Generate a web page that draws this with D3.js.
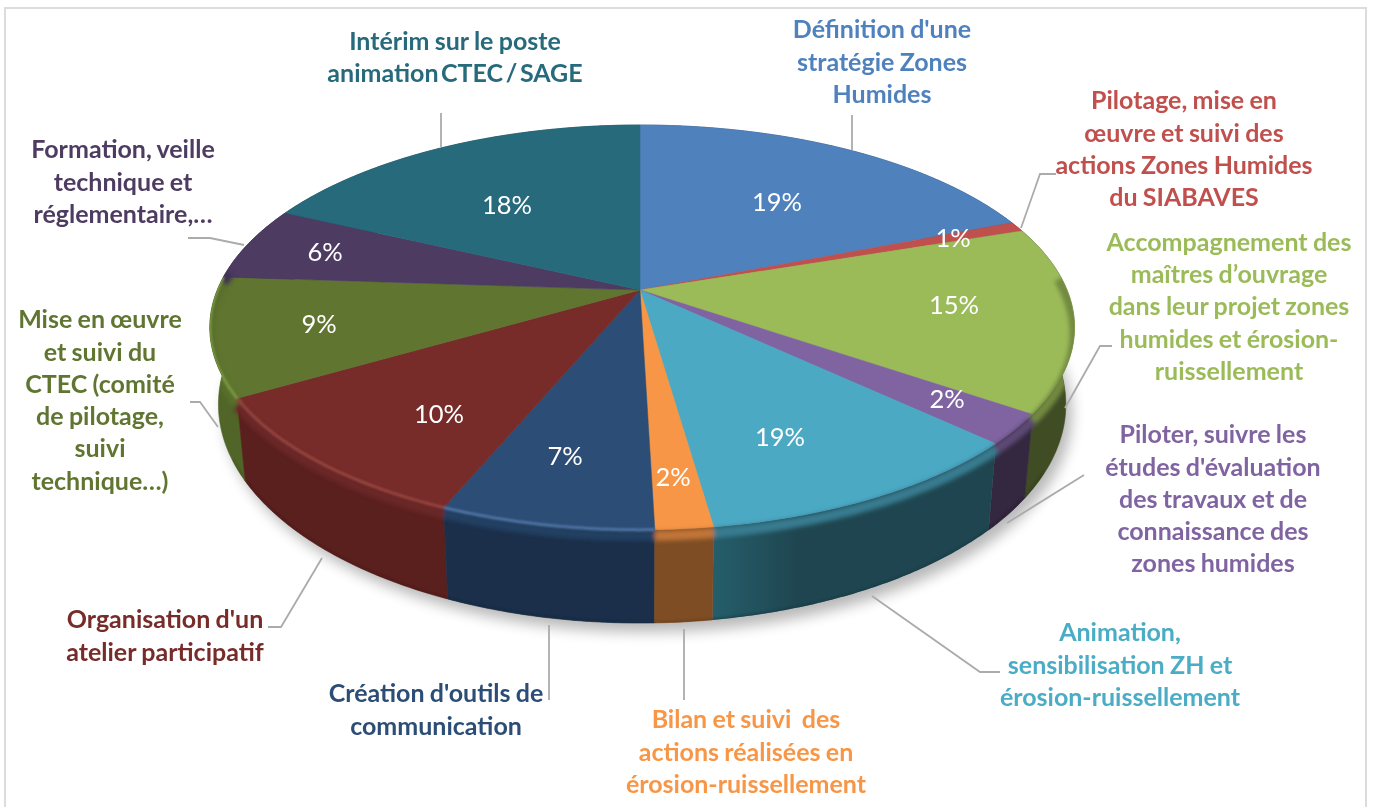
<!DOCTYPE html>
<html><head><meta charset="utf-8">
<script src="https://cdn.jsdelivr.net/npm/d3@7/dist/d3.min.js"></script>
<style>html,body{margin:0;padding:0;background:#fff}svg{display:block}text{font-family:Lato,"Open Sans",sans-serif}</style>
</head><body><svg id="c" width="1373" height="807"></svg>
<script>
// ---- data ----
const categories = [
  ["Définition d'une","stratégie Zones","Humides"],
  ["Pilotage, mise en","œuvre et suivi des","actions Zones Humides","du SIABAVES"],
  ["Accompagnement des","maîtres d’ouvrage","dans leur projet zones","humides et érosion-","ruissellement"],
  ["Piloter, suivre les","études d'évaluation","des travaux et de","connaissance des","zones humides"],
  ["Animation,","sensibilisation ZH et","érosion-ruissellement"],
  ["Bilan et suivi\u00a0 des","actions réalisées en","érosion-ruissellement"],
  ["Création d'outils de","communication"],
  ["Organisation d'un","atelier participatif"],
  ["Mise en œuvre","et suivi du","CTEC (comité","de pilotage,","suivi","technique…)"],
  ["Formation, veille","technique et","réglementaire,…"],
  ["Intérim sur le poste","animation CTEC / SAGE"]
];
// slice sizes as read from the drawn sectors; printed labels as shown in the picture
const sliceShares = [19,0.8,14.8,2.4,10.7,1.8,6.73,10.32,9.45,5.9,18];
const percentLabels = ["19%","1%","15%","2%","19%","2%","7%","10%","9%","6%","18%"];
// ---- style ----
const topColors  = ["#4F81BD","#C0504D","#9BBB59","#8064A2","#4BA9C4","#F79646","#2C4D75","#772C2A","#5F7530","#4D3B62","#276A7C"];
const wallColors = ["#2f4d71","#73302e","#3F4C24","#33283F","#1F4650","#7E4D24","#1B2F4A","#5A201E","#506527","#33283F","#1a4753"];
const highlightColors = [null,null,null,null,null,null,"#4F75A6","#96453F","#7A9A42",null,null];
const textColors = ["#4F81BD","#C0504D","#9BBB59","#8064A2","#4BACC6","#F79646","#2C4D75","#772C2A","#5F7530","#4D3B62","#276A7C"];
// ---- layout ----
const labelCx = [882,1184,1229,1213,1120,746,436,165,100,123,455];
const labelTop = [29.5,100.5,242,434.5,632.5,719.5,693.5,619.5,319.5,149.5,41];
const lineStep = 32.3;
const pctPos = [[777,202],[953,238],[954,305],[947,399],[780,437],[673,477],[565,456],[439,414],[319,324],[325,252],[507,205]];
const leaders = [
 [[852,115],[852,150]],
 [[1056,174],[1040,174],[1021,228]],
 [[1112,346],[1100,346],[1065,408]],
 [[1084,475],[1007,523]],
 [[1000,672],[980,672],[872,596]],
 [[684,700],[684,629]],
 [[549,700],[549,625]],
 [[268,627],[281,627],[322,558]],
 [[190,402],[200,402],[218,427]],
 [[188,238],[210,238],[244,245]],
 [[441,113],[441,147]]
];
const cx=640, cy=290, R=427, K=195.5, P=0.185, leftScale=0.99;
const project=a=>{const u=Math.sin(a),v=Math.cos(a),w=1+P*v,x=R*u/w;return [x<0?x*leftScale:x,K*v/w];};
const topPt=a=>{const [x,y]=project(a);return [cx+x,cy-y];};
const botPt=a=>{const [x,y]=project(a);return [cx+0.98*x,cy+74-1.08*y];};
const svg=d3.select("#c");
const defs=svg.append("defs");
const blur=(id,s)=>defs.append("filter").attr("id",id).attr("filterUnits","userSpaceOnUse").attr("x",0).attr("y",0).attr("width",1373).attr("height",807)
  .append("feGaussianBlur").attr("stdDeviation",s);
blur("sh",7); blur("rim",2); blur("glow",1.3);
const tg=defs.append("linearGradient").attr("id","tealWall").attr("x1",0).attr("x2",0.3).attr("y1",0).attr("y2",0);
tg.append("stop").attr("offset",0).attr("stop-color","#255E6B");
tg.append("stop").attr("offset",1).attr("stop-color","#1F4650");
// frame
svg.append("path").attr("d","M5,807V8H1366V807").attr("fill","none").attr("stroke","#dcdcdc").attr("stroke-width",2);
const arcs=d3.pie().sort(null).value(d=>d).startAngle(0).endAngle(2*Math.PI)(sliceShares);
const line=d3.line();
const samples=(a0,a1)=>{const n=Math.max(2,Math.ceil((a1-a0)/0.01));return d3.range(n+1).map(i=>a0+(a1-a0)*i/n);};
const wallPath=(a0,a1)=>{const s=samples(a0,a1);return line(s.map(topPt).concat(s.slice().reverse().map(botPt)))+"Z";};
// shadow
svg.append("path").attr("transform","translate(6,9)").attr("d",line(samples(0,2*Math.PI).map(botPt))+"Z")
  .attr("fill","#000").attr("opacity",0.28).attr("filter","url(#sh)");
// walls, back to front
const order=d3.range(arcs.length).sort((p,q)=>
   Math.cos((arcs[q].startAngle+arcs[q].endAngle)/2)-Math.cos((arcs[p].startAngle+arcs[p].endAngle)/2));
svg.append("g").selectAll("path").data(order).join("path")
  .attr("d",i=>wallPath(arcs[i].startAngle,arcs[i].endAngle))
  .attr("fill",i=>i===4?"url(#tealWall)":wallColors[i]).attr("stroke",i=>i===4?"none":wallColors[i]).attr("stroke-width",0.6);
// top faces
const apex=[cx,cy];
svg.append("g").selectAll("path").data(arcs).join("path")
  .attr("d",d=>line([apex].concat(samples(d.startAngle,d.endAngle).map(topPt)))+"Z")
  .attr("fill",(d,i)=>topColors[i]).attr("stroke",(d,i)=>topColors[i]).attr("stroke-width",0.5);
// clip for bevel = whole solid
const clip=defs.append("clipPath").attr("id","solid");
clip.append("path").attr("d",line(samples(0,2*Math.PI).map(topPt))+"Z");
arcs.forEach(d=>clip.append("path").attr("d",wallPath(d.startAngle,d.endAngle)));
// bevel only along the visible front edge
const deg=Math.PI/180;
const range=(d,a,b)=>[Math.max(d.startAngle,a*deg),Math.min(d.endAngle,b*deg)];
const frontArcs=arcs.map((d,i)=>({d,i})).filter(o=>{const r=range(o.d,85,277);return r[1]>r[0];});
const bevel=svg.append("g").attr("clip-path","url(#solid)");
bevel.append("g").attr("filter","url(#rim)").selectAll("path").data(frontArcs).join("path")
  .attr("d",o=>{const [a,b]=range(o.d,85,277);return line(samples(a,b).map(topPt).map(p=>[p[0],p[1]+6]));})
  .attr("fill","none").attr("stroke-width",10)
  .attr("stroke",o=>d3.interpolateRgb(topColors[o.i],wallColors[o.i])(0.45));
bevel.append("g").attr("filter","url(#glow)").selectAll("path").data(frontArcs.filter(o=>highlightColors[o.i])).join("path")
  .attr("d",o=>{const [a,b]=range(o.d,85,277);return line(samples(a,b).map(topPt));})
  .attr("fill","none").attr("stroke-width",3).attr("stroke",o=>highlightColors[o.i]);
const bottomArcs=frontArcs.filter(o=>{const r=range(o.d,118,245);return r[1]>r[0];});
bevel.append("g").attr("filter","url(#glow)").selectAll("path").data(bottomArcs).join("path")
  .attr("d",o=>{const [a,b]=range(o.d,118,245);return line(samples(a,b).map(botPt));})
  .attr("fill","none").attr("stroke-width",3).attr("opacity",0.7)
  .attr("stroke",o=>d3.color(wallColors[o.i]).darker(0.6));
// leaders
svg.append("g").selectAll("path").data(leaders).join("path").attr("d",d=>line(d))
  .attr("fill","none").attr("stroke","#ABABAB").attr("stroke-width",1.8);
// percent labels
svg.append("g").selectAll("text").data(percentLabels).join("text")
  .attr("x",(d,i)=>pctPos[i][0]).attr("y",(d,i)=>pctPos[i][1]).attr("dy","0.35em")
  .attr("text-anchor","middle").attr("fill","#fff").attr("font-size",25.5).text(d=>d);
// category labels
const g=svg.append("g").selectAll("text").data(categories).join("text")
  .attr("text-anchor","middle").attr("fill",(d,i)=>textColors[i]).attr("font-size",25).attr("font-weight",700).attr("word-spacing",-0.8);
g.each(function(lines,i){
  d3.select(this).selectAll("tspan").data(lines).join("tspan")
    .attr("x",labelCx[i]).attr("y",(l,j)=>labelTop[i]+j*lineStep).attr("dy","0.35em")
    .attr("word-spacing",l=>l.includes("/")?-3.5:null).text(l=>l);
});
</script></body></html>
